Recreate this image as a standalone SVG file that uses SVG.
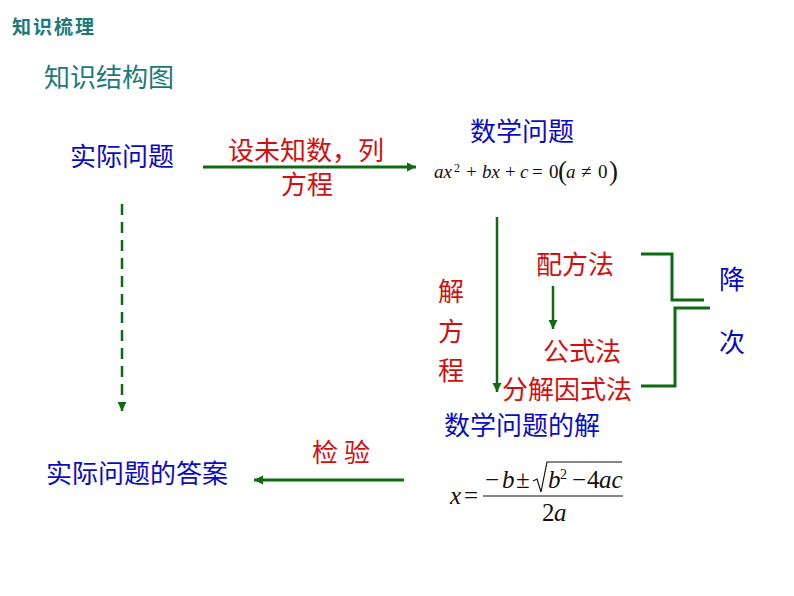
<svg xmlns="http://www.w3.org/2000/svg" width="794" height="596" viewBox="0 0 794 596">
<style>
text{font-family:"Noto Sans CJK SC","Noto Sans CJK JP",sans-serif;font-size:26px;font-weight:400}
.b{fill:#0b0bc4}.r{fill:#d20f0f}.t{fill:#1b7a78}
.m{font-family:"Liberation Serif",serif;fill:#111;font-weight:400}
.i{font-style:italic}
.g{stroke:#0e6b12;stroke-width:3;fill:none}
.d{stroke:#0e6b12;stroke-width:2.5;fill:none}
</style>
<defs>
<marker id="a" markerUnits="userSpaceOnUse" markerWidth="10" markerHeight="10" refX="9" refY="5" orient="auto"><path d="M0 0.5L9 5L0 9.5z" fill="#0e6b12"/></marker>
</defs>
<rect width="794" height="596" fill="#fff"/>
<g id="title"><text x="12" y="34" class="t" style="font-size:19px;font-weight:700" textLength="82" lengthAdjust="spacing">知识梳理</text></g>
<g id="subtitle"><text x="44" y="87" class="t">知识结构图</text></g>
<g id="connectors">
<path class="g" d="M203 167H416" marker-end="url(#a)"/>
<path class="d" d="M122 204V411" stroke-dasharray="11 7" marker-end="url(#a)"/>
<path class="d" d="M497 217V392" marker-end="url(#a)"/>
<path class="d" d="M553 286V329" marker-end="url(#a)"/>
<path class="g" d="M404 480H254" marker-end="url(#a)"/>
<path class="g" d="M641 254H672V300H704"/>
<path class="g" d="M641 386H675V308H710"/>
</g>
<g id="n1"><text x="70" y="166" class="b">实际问题</text></g>
<g id="n2"><text x="228" y="160" class="r">设未知数，列</text><text x="281" y="194" class="r">方程</text></g>
<g id="n3"><text x="470" y="141" class="b">数学问题</text>
<text class="m" y="178" style="font-size:19px"><tspan x="434" class="i">ax</tspan><tspan x="454" y="172" style="font-size:12px">2</tspan><tspan x="466" y="178">+</tspan><tspan x="482" class="i">bx</tspan><tspan x="505">+</tspan><tspan x="520" class="i">c</tspan><tspan x="532">=</tspan><tspan x="549">0</tspan><tspan x="558" y="180" style="font-size:27px;font-weight:300">(</tspan><tspan x="566" y="178" class="i">a</tspan><tspan x="581">≠</tspan><tspan x="598">0</tspan><tspan x="609" y="180" style="font-size:27px;font-weight:300">)</tspan></text></g>
<g id="n4"><text x="438" y="301" class="r">解</text><text x="438" y="341" class="r">方</text><text x="438" y="380" class="r">程</text></g>
<g id="n5"><text x="536" y="274" class="r">配方法</text></g>
<g id="n6"><text x="543" y="361" class="r">公式法</text></g>
<g id="n7"><text x="502" y="399" class="r">分解因式法</text></g>
<g id="n8"><text x="719" y="289" class="b">降</text><text x="719" y="352" class="b">次</text></g>
<g id="n9"><text x="444" y="435" class="b">数学问题的解</text>
<text class="m" style="font-size:25px"><tspan x="450" y="504" class="i">x</tspan><tspan x="464" y="504">=</tspan><tspan x="485" y="488">−</tspan><tspan x="502" y="488" class="i">b</tspan><tspan x="516" y="488">±</tspan><tspan x="548" y="488" class="i">b</tspan><tspan x="560" y="479" style="font-size:14px">2</tspan><tspan x="572" y="488">−</tspan><tspan x="587" y="488">4</tspan><tspan x="599" y="488" class="i">ac</tspan><tspan x="542" y="521">2</tspan><tspan x="554" y="521" class="i">a</tspan></text>
<path d="M533 481L537 479L541 492L547 462H622" fill="none" stroke="#111" stroke-width="1.2"/>
<path d="M483 496H623" stroke="#111" stroke-width="1.2"/></g>
<g id="n10"><text x="312" y="462" class="r" textLength="58">检 验</text></g>
<g id="n11"><text x="46" y="483" class="b">实际问题的答案</text></g>
</svg>
